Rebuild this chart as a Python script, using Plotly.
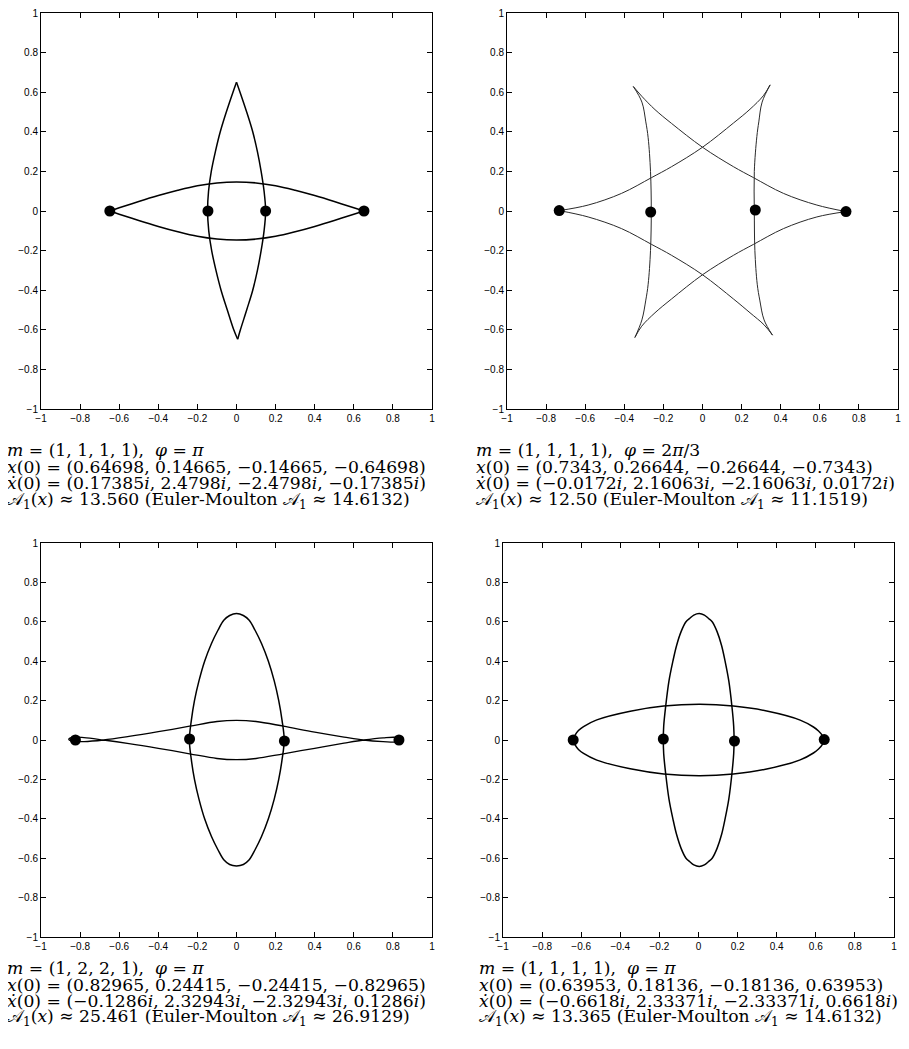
import plotly.graph_objects as go

# ---------------- data ----------------
# Panel 1 (top-left)
tl_vr_x = [0.0, 0.018, 0.052, 0.083, 0.107, 0.126, 0.141, 0.149, 0.141, 0.126, 0.107, 0.083, 0.052, 0.02, 0.006]
tl_vr_y = [0.65, 0.6, 0.5, 0.4, 0.3, 0.2, 0.1, 0.0, -0.1, -0.2, -0.3, -0.4, -0.5, -0.6, -0.648]
tl_vl_x = [0.0, -0.018, -0.052, -0.083, -0.108, -0.129, -0.143, -0.148, -0.142, -0.127, -0.105, -0.079, -0.047, -0.014, 0.006]
tl_vl_y = [0.65, 0.6, 0.5, 0.4, 0.3, 0.2, 0.1, 0.0, -0.1, -0.2, -0.3, -0.4, -0.5, -0.6, -0.648]
tl_hu_x = [-0.648, -0.6, -0.5, -0.4, -0.3, -0.2, -0.1, 0.0, 0.1, 0.2, 0.3, 0.4, 0.5, 0.6, 0.652]
tl_hu_y = [0.0, 0.016, 0.048, 0.078, 0.105, 0.128, 0.142, 0.147, 0.142, 0.128, 0.105, 0.078, 0.048, 0.016, 0.0]
tl_hl_x = [-0.648, -0.6, -0.5, -0.4, -0.3, -0.2, -0.1, 0.0, 0.1, 0.2, 0.3, 0.4, 0.5, 0.6, 0.652]
tl_hl_y = [0.0, -0.016, -0.048, -0.078, -0.105, -0.128, -0.142, -0.147, -0.142, -0.128, -0.105, -0.078, -0.048, -0.016, 0.0]
tl_dot_x = [-0.648, -0.146, 0.149, 0.652]
tl_dot_y = [0.0, 0.0, 0.0, 0.0]

# Panel 2 (top-right)
tr_a_x = [-0.354, -0.311, -0.243, -0.158, 0.0, 0.158, 0.26, 0.414, 0.585, 0.734]
tr_a_y = [0.629, 0.58, 0.512, 0.442, 0.322, 0.224, 0.169, 0.089, 0.03, -0.003]
tr_b_x = [-0.733, -0.585, -0.414, -0.26, -0.158, 0.0, 0.158, 0.243, 0.311, 0.346]
tr_b_y = [0.002, 0.03, 0.089, 0.169, 0.224, 0.322, 0.444, 0.514, 0.582, 0.637]
tr_c_x = [-0.733, -0.585, -0.414, -0.26, -0.158, 0.0, 0.158, 0.243, 0.315, 0.358]
tr_c_y = [0.002, -0.03, -0.089, -0.169, -0.224, -0.322, -0.444, -0.514, -0.575, -0.627]
tr_d_x = [-0.346, -0.311, -0.243, -0.158, 0.0, 0.158, 0.26, 0.414, 0.585, 0.734]
tr_d_y = [-0.639, -0.582, -0.514, -0.444, -0.322, -0.224, -0.169, -0.089, -0.03, -0.003]
tr_l_x = [-0.354, -0.31, -0.29, -0.278, -0.266, -0.262, -0.266, -0.278, -0.29, -0.31, -0.346]
tr_l_y = [0.629, 0.55, 0.45, 0.37, 0.2, 0.0, -0.2, -0.37, -0.45, -0.55, -0.639]
tr_r_x = [0.346, 0.305, 0.288, 0.278, 0.265, 0.265, 0.268, 0.28, 0.293, 0.315, 0.358]
tr_r_y = [0.637, 0.55, 0.45, 0.376, 0.2, 0.0, -0.2, -0.37, -0.45, -0.55, -0.627]
tr_dot_x = [-0.733, -0.265, 0.27, 0.734]
tr_dot_y = [0.002, -0.005, 0.005, -0.003]

# Panel 3 (bottom-left)
bl_v_x = [0.0, 0.035, 0.065, 0.095, 0.128, 0.163, 0.193, 0.216, 0.233, 0.244, 0.233, 0.216, 0.193, 0.163, 0.128, 0.095, 0.065, 0.035, 0.0,
          -0.035, -0.065, -0.095, -0.128, -0.163, -0.192, -0.215, -0.231, -0.241, -0.231, -0.215, -0.192, -0.163, -0.128, -0.095, -0.065, -0.035, 0.0]
bl_v_y = [0.642, 0.632, 0.608, 0.557, 0.49, 0.4, 0.3, 0.2, 0.1, 0.0, -0.1, -0.2, -0.3, -0.4, -0.49, -0.557, -0.608, -0.632, -0.639,
          -0.632, -0.608, -0.557, -0.49, -0.4, -0.3, -0.2, -0.1, 0.0, 0.1, 0.2, 0.3, 0.4, 0.49, 0.557, 0.608, 0.632, 0.642]
bl_h_x = [0.0, 0.1, 0.24, 0.4, 0.55, 0.65, 0.75, 0.82, 0.85, 0.82, 0.75, 0.65, 0.55, 0.4, 0.24, 0.1, 0.0,
          -0.1, -0.24, -0.4, -0.55, -0.68, -0.78, -0.84, -0.858, -0.84, -0.78, -0.68, -0.55, -0.4, -0.24, -0.1, 0.0]
bl_h_y = [0.1, 0.094, 0.07, 0.04, 0.015, 0.0, -0.008, -0.01, 0.002, 0.013, 0.011, 0.0, -0.016, -0.042, -0.07, -0.094, -0.1,
          -0.094, -0.07, -0.042, -0.018, 0.0, 0.012, 0.013, 0.004, -0.006, -0.008, 0.0, 0.018, 0.042, 0.07, 0.094, 0.1]
bl_dot_x = [-0.824, -0.24, 0.245, 0.831]
bl_dot_y = [0.0, 0.005, -0.005, 0.0]

# Panel 4 (bottom-right)
br_v_x = [0.004, 0.03, 0.05, 0.07, 0.095, 0.118, 0.136, 0.155, 0.171, 0.18, 0.182, 0.18, 0.171, 0.155, 0.136, 0.118, 0.095, 0.07, 0.05, 0.03, 0.004,
          -0.024, -0.044, -0.064, -0.089, -0.112, -0.131, -0.151, -0.168, -0.178, -0.18, -0.178, -0.168, -0.151, -0.131, -0.112, -0.089, -0.064, -0.044, -0.024, 0.004]
br_v_y = [0.642, 0.634, 0.618, 0.6, 0.55, 0.48, 0.4, 0.3, 0.17, 0.07, 0.0, -0.07, -0.17, -0.3, -0.4, -0.48, -0.55, -0.6, -0.618, -0.634, -0.642,
          -0.634, -0.618, -0.6, -0.55, -0.48, -0.4, -0.3, -0.17, -0.07, 0.0, 0.07, 0.17, 0.3, 0.4, 0.48, 0.55, 0.6, 0.618, 0.634, 0.642]
br_h_x = [-0.641, -0.632, -0.614, -0.588, -0.52, -0.349, -0.178, 0.008, 0.178, 0.349, 0.52, 0.588, 0.614, 0.634, 0.643,
          0.634, 0.614, 0.588, 0.52, 0.349, 0.178, 0.008, -0.178, -0.349, -0.52, -0.588, -0.614, -0.632, -0.641]
br_h_y = [0.0, 0.024, 0.048, 0.068, 0.102, 0.146, 0.172, 0.181, 0.172, 0.147, 0.101, 0.066, 0.046, 0.022, 0.0,
          -0.022, -0.046, -0.066, -0.101, -0.147, -0.172, -0.181, -0.172, -0.146, -0.102, -0.068, -0.048, -0.024, 0.0]
br_dot_x = [-0.641, -0.18, 0.184, 0.643]
br_dot_y = [0.0, 0.005, -0.005, 0.002]

tick_vals = [-1, -0.8, -0.6, -0.4, -0.2, 0, 0.2, 0.4, 0.6, 0.8, 1]
tick_text = ["\u22121", "\u22120.8", "\u22120.6", "\u22120.4", "\u22120.2", "0", "0.2", "0.4", "0.6", "0.8", "1"]

captions = {
    "tl": ["<i>m</i> = (1, 1, 1, 1),\u00a0 <i>\u03c6</i> = <i>\u03c0</i>",
           "<i>x</i>(0) = (0.64698, 0.14665, \u22120.14665, \u22120.64698)",
           "<i>\u1e8b</i>(0) = (0.17385<i>i</i>, 2.4798<i>i</i>, \u22122.4798<i>i</i>, \u22120.17385<i>i</i>)",
           "\U0001d49c<sub>1</sub>(<i>x</i>) \u2248 13.560 (Euler-Moulton \U0001d49c<sub>1</sub> \u2248 14.6132)"],
    "tr": ["<i>m</i> = (1, 1, 1, 1),\u00a0 <i>\u03c6</i> = 2<i>\u03c0</i>/3",
           "<i>x</i>(0) = (0.7343, 0.26644, \u22120.26644, \u22120.7343)",
           "<i>\u1e8b</i>(0) = (\u22120.0172<i>i</i>, 2.16063<i>i</i>, \u22122.16063<i>i</i>, 0.0172<i>i</i>)",
           "\U0001d49c<sub>1</sub>(<i>x</i>) \u2248 12.50 (Euler-Moulton \U0001d49c<sub>1</sub> \u2248 11.1519)"],
    "bl": ["<i>m</i> = (1, 2, 2, 1),\u00a0 <i>\u03c6</i> = <i>\u03c0</i>",
           "<i>x</i>(0) = (0.82965, 0.24415, \u22120.24415, \u22120.82965)",
           "<i>\u1e8b</i>(0) = (\u22120.1286<i>i</i>, 2.32943<i>i</i>, \u22122.32943<i>i</i>, 0.1286<i>i</i>)",
           "\U0001d49c<sub>1</sub>(<i>x</i>) \u2248 25.461 (Euler-Moulton \U0001d49c<sub>1</sub> \u2248 26.9129)"],
    "br": ["<i>m</i> = (1, 1, 1, 1),\u00a0 <i>\u03c6</i> = <i>\u03c0</i>",
           "<i>x</i>(0) = (0.63953, 0.18136, \u22120.18136, 0.63953)",
           "<i>\u1e8b</i>(0) = (\u22120.6618<i>i</i>, 2.33371<i>i</i>, \u22122.33371<i>i</i>, 0.6618<i>i</i>)",
           "\U0001d49c<sub>1</sub>(<i>x</i>) \u2248 13.365 (Euler-Moulton \U0001d49c<sub>1</sub> \u2248 14.6132)"],
}

# ---------------- figure ----------------
# The page body keeps its default 8px margin, so the figure is placed 8px in
# and sized to fill the rest of the 909x1049 window.
OFF = 8
W, H = 909 - OFF, 1049 - 2 * OFF
fig = go.Figure()

def px_x(p):
    return (p - OFF) / W

def px_y(p):
    return 1 - (p - OFF) / H

panels = {
    # name: (axis suffix, left, right, top, bottom) in window pixels
    "tl": ("", 41, 432, 13, 409),
    "tr": ("2", 507, 898, 13, 409),
    "bl": ("3", 41, 432, 543, 937),
    "br": ("4", 503, 894, 543, 937),
}

def add_line(name, xs, ys, width=1.5, color="black"):
    suf = panels[name][0]
    fig.add_trace(go.Scatter(x=xs, y=ys, mode="lines",
                             line=dict(color=color, width=width, shape="spline", smoothing=1),
                             xaxis="x" + suf, yaxis="y" + suf, showlegend=False, hoverinfo="skip"))

def add_dots(name, xs, ys):
    suf = panels[name][0]
    fig.add_trace(go.Scatter(x=xs, y=ys, mode="markers",
                             marker=dict(color="black", size=11, line=dict(width=0)),
                             xaxis="x" + suf, yaxis="y" + suf, showlegend=False, hoverinfo="skip"))

add_line("tl", tl_vr_x, tl_vr_y)
add_line("tl", tl_vl_x, tl_vl_y)
add_line("tl", tl_hu_x, tl_hu_y)
add_line("tl", tl_hl_x, tl_hl_y)
add_dots("tl", tl_dot_x, tl_dot_y)

for xs, ys in [(tr_a_x, tr_a_y), (tr_b_x, tr_b_y), (tr_c_x, tr_c_y), (tr_d_x, tr_d_y),
               (tr_l_x, tr_l_y), (tr_r_x, tr_r_y)]:
    add_line("tr", xs, ys, width=1.0, color="#2a2a2a")
add_dots("tr", tr_dot_x, tr_dot_y)

add_line("bl", bl_v_x, bl_v_y)
add_line("bl", bl_h_x, bl_h_y, width=1.3)
add_dots("bl", bl_dot_x, bl_dot_y)

add_line("br", br_v_x, br_v_y)
add_line("br", br_h_x, br_h_y)
add_dots("br", br_dot_x, br_dot_y)

axis_common = dict(range=[-1, 1], tickmode="array", tickvals=tick_vals, ticktext=tick_text,
                   ticks="inside", ticklen=5, tickwidth=1, tickcolor="black",
                   showline=True, linecolor="black", linewidth=1, mirror="ticks",
                   showgrid=False, zeroline=False, fixedrange=True, automargin=False,
                   ticklabeloverflow="allow",
                   tickfont=dict(family="Liberation Sans, Arial, sans-serif", size=10, color="black"))

layout_axes = {}
for name, (suf, l, r, t, b) in panels.items():
    xa = dict(axis_common, domain=[px_x(l), px_x(r)], anchor="y" + suf)
    ya = dict(axis_common, domain=[px_y(b), px_y(t)], anchor="x" + suf)
    layout_axes["xaxis" + suf] = xa
    layout_axes["yaxis" + suf] = ya

annotations = []
cap_pos = {
    "tl": (5, [450, 467, 483, 500]),
    "tr": (474, [450, 467, 483, 500]),
    "bl": (5, [968, 985, 1001, 1017]),
    "br": (477, [968, 985, 1001, 1017]),
}
for name, (x0, ys) in cap_pos.items():
    for line, yp in zip(captions[name], ys):
        annotations.append(dict(x=px_x(x0), y=px_y(yp), xref="paper", yref="paper",
                                xanchor="left", yanchor="middle", showarrow=False, text=line,
                                font=dict(family="DejaVu Serif, serif", size=17.2, color="black")))

fig.update_layout(template="none", width=W, height=H, margin=dict(l=0, r=0, t=0, b=0, pad=0),
                  paper_bgcolor="white", plot_bgcolor="white", showlegend=False,
                  annotations=annotations, **layout_axes)

fig.write_html("out.html")
